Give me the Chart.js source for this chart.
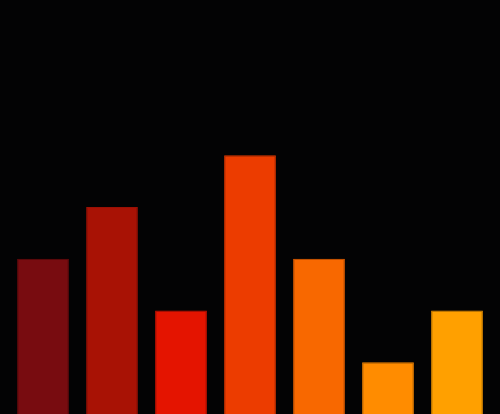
<!DOCTYPE html>
<html><head><meta charset="utf-8">
<script src="https://cdn.jsdelivr.net/npm/chart.js@4"></script>
<style>html,body{margin:0;padding:0;background:#030304;}#wrap{width:500px;height:414px;}</style>
</head><body><div id="wrap"><canvas id="c"></canvas></div>
<script>
const categories = ["A","B","C","D","E","F","G"];
const values = [3,4,2,5,3,1,2];
const colors = ["#780c10","#a81205","#e41400","#ec3c00","#f86800","#ff8c00","#ffa000"];
const borders = ["#6a0a0d","#9a1004","#d41200","#dc3600","#e86000","#f08200","#f09400"];
new Chart(document.getElementById('c'), {
  type: 'bar',
  data: { labels: categories, datasets: [{ data: values, backgroundColor: colors, borderColor: borders, borderWidth: 1, barPercentage: 0.75, categoryPercentage: 1 }] },
  options: {
    responsive: true, maintainAspectRatio: false, animation: false,
    layout: { padding: { left: 8.5, right: 8.5, top: 0, bottom: 0 } },
    plugins: { legend: { display: false }, tooltip: { enabled: false } },
    scales: {
      x: { display: false },
      y: { display: false, min: 0, max: 8 }
    }
  }
});
</script></body></html>
